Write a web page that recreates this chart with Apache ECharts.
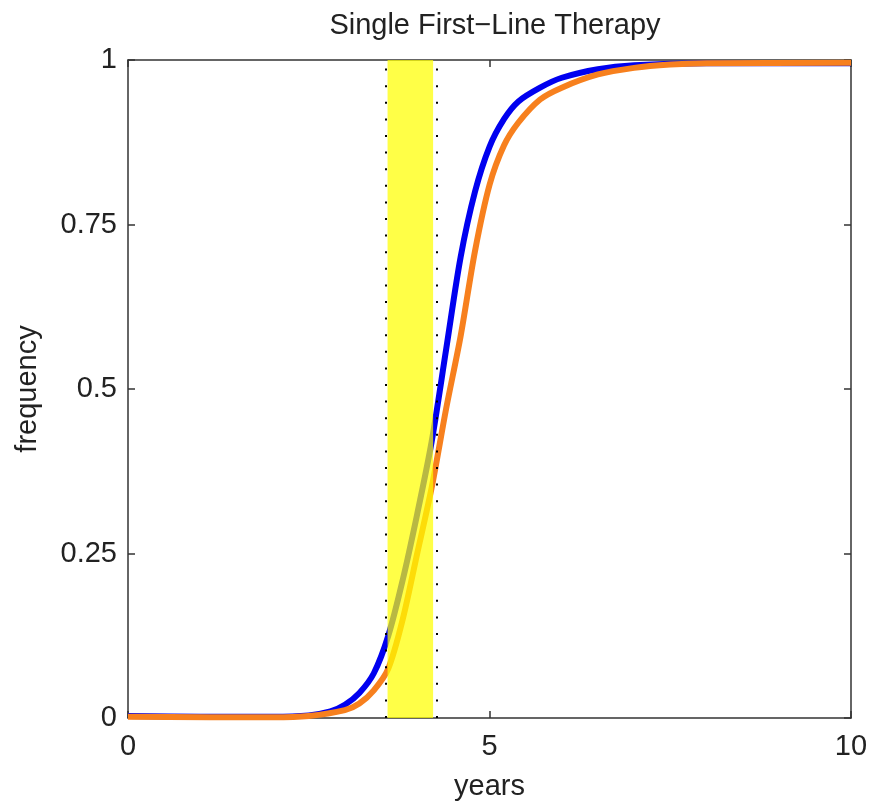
<!DOCTYPE html>
<html style="height: 100%;">
<head>
    <meta charset="UTF-8">
    <script src="https://cdn.jsdelivr.net/npm/echarts/dist/echarts.min.js"></script>
</head>
<body style="height: 100%; margin: 0; background: #fff;">
    <div id="chart" style="width: 872px; height: 806px;"></div>

    <script type="text/javascript">
        // curve values (years, frequency)
        var blueX = [0, 1.0, 2.0, 2.5, 2.8, 3.0, 3.2, 3.4, 3.6, 3.8, 4.0, 4.2, 4.4, 4.6, 4.8, 5.0, 5.2, 5.4, 5.7, 6.0, 6.5, 7.0, 8.0, 10];
        var blueY = [0.003, 0.002, 0.002, 0.004, 0.010, 0.020, 0.038, 0.068, 0.125, 0.21, 0.31, 0.42, 0.56, 0.70, 0.80, 0.868, 0.91, 0.937, 0.958, 0.973, 0.986, 0.992, 0.995, 0.995];

        var orangeX = [0, 2.0, 2.5, 3.0, 3.2, 3.4, 3.6, 3.8, 4.0, 4.2, 4.4, 4.6, 4.8, 5.0, 5.2, 5.4, 5.7, 6.0, 6.5, 7.0, 7.5, 8.0, 10];
        var orangeY = [0.002, 0.001, 0.003, 0.012, 0.022, 0.042, 0.075, 0.15, 0.25, 0.35, 0.47, 0.58, 0.71, 0.81, 0.87, 0.905, 0.94, 0.958, 0.978, 0.988, 0.993, 0.995, 0.996];

        // shaded interval and the dotted markers around it
        var band = [3.59, 4.22];
        var dottedX = [3.57, 4.27];

        var xTicks = { min: 0, max: 10, interval: 5 };
        var yTicks = { min: 0, max: 1, interval: 0.25 };

        function pairs(xs, ys) {
            return xs.map(function (x, i) { return [x, ys[i]]; });
        }

        var chart = echarts.init(document.getElementById('chart'));

        var font = 'Liberation Sans, Arial, sans-serif';
        var axisLine = { show: true, onZero: false, lineStyle: { color: '#333', width: 1.5 } };
        var tick = { show: true, inside: true, length: 7, lineStyle: { color: '#333', width: 1.5 } };
        var label = { fontFamily: font, fontSize: 29, color: '#222' };

        var option = {
            animation: false,
            backgroundColor: '#fff',
            title: {
                text: 'Single First\u2212Line Therapy',
                left: 490,
                top: 6,
                textAlign: 'center',
                textStyle: { fontFamily: font, fontSize: 29, fontWeight: 'normal', color: '#222' }
            },
            grid: { left: 128, right: 21, top: 60, bottom: 88 },
            xAxis: [
                {
                    type: 'value',
                    min: xTicks.min, max: xTicks.max, interval: xTicks.interval,
                    name: 'years',
                    nameLocation: 'middle',
                    nameGap: 54,
                    nameTextStyle: label,
                    axisLine: axisLine,
                    axisTick: tick,
                    axisLabel: Object.assign({ margin: 14 }, label),
                    splitLine: { show: false }
                },
                {
                    type: 'value',
                    position: 'top',
                    min: xTicks.min, max: xTicks.max, interval: xTicks.interval,
                    axisLine: axisLine,
                    axisTick: tick,
                    axisLabel: { show: false },
                    splitLine: { show: false }
                }
            ],
            yAxis: [
                {
                    type: 'value',
                    min: yTicks.min, max: yTicks.max, interval: yTicks.interval,
                    name: 'frequency',
                    nameLocation: 'middle',
                    nameGap: 86,
                    nameTextStyle: label,
                    axisLine: axisLine,
                    axisTick: tick,
                    axisLabel: Object.assign({ margin: 11 }, label),
                    splitLine: { show: false }
                },
                {
                    type: 'value',
                    position: 'right',
                    min: yTicks.min, max: yTicks.max, interval: yTicks.interval,
                    axisLine: axisLine,
                    axisTick: tick,
                    axisLabel: { show: false },
                    splitLine: { show: false }
                }
            ],
            series: [
                {
                    name: 'blue',
                    type: 'line',
                    data: pairs(blueX, blueY),
                    smooth: 0.3,
                    showSymbol: false,
                    clip: false,
                    lineStyle: { color: '#0000f0', width: 6 },
                    z: 3
                },
                {
                    name: 'orange',
                    type: 'line',
                    data: pairs(orangeX, orangeY),
                    smooth: 0.3,
                    showSymbol: false,
                    clip: false,
                    lineStyle: { color: '#f7801e', width: 6 },
                    z: 4
                },
                // yellow interval, drawn over the curves
                {
                    name: 'band',
                    type: 'line',
                    data: [],
                    silent: true,
                    z: 6,
                    markArea: {
                        silent: true,
                        z: 10,
                        itemStyle: { color: 'rgba(255, 255, 0, 0.72)' },
                        data: [[{ xAxis: band[0] }, { xAxis: band[1] }]]
                    },
                    markLine: {
                        silent: true,
                        z: 11,
                        symbol: ['none', 'none'],
                        label: { show: false },
                        lineStyle: { type: [2, 14.6], color: '#000', width: 2 },
                        data: dottedX.map(function (x) { return { xAxis: x }; })
                    }
                }
            ]
        };

        chart.setOption(option);
        window.addEventListener('resize', chart.resize);
    </script>
</body>
</html>
